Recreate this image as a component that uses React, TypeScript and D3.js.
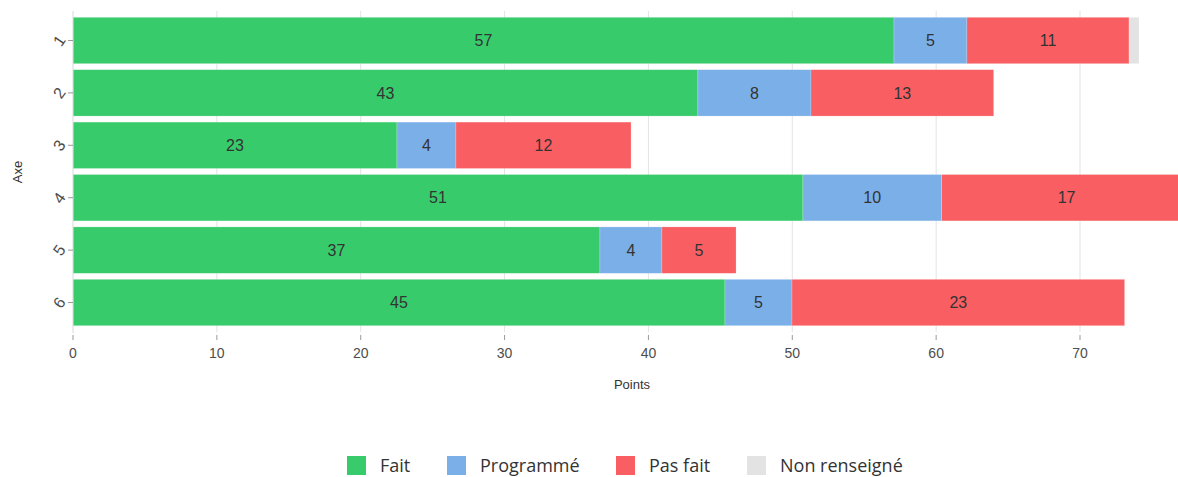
import React from "react";
import * as d3 from "d3";

const categories = ["1", "2", "3", "4", "5", "6"];
const seriesNames = ["Fait", "Programmé", "Pas fait", "Non renseigné"];
const fait = [57.07, 43.44, 22.52, 50.74, 36.63, 45.32];
const programme = [5.07, 7.86, 4.1, 9.64, 4.31, 4.66];
const pasFait = [11.27, 12.7, 12.17, 17.38, 5.15, 23.12];
const nonRenseigne = [0.69, 0, 0, 0, 0, 0];
const xTicks = [0, 10, 20, 30, 40, 50, 60, 70];
const colors = ["#37CB6B", "#7BAFE8", "#F95E62", "#E3E3E3"];

const W = 1178;
const H = 477;

export default function App() {
  const x = d3.scaleLinear().domain([0, 70]).range([73, 1080]);
  const y = d3
    .scaleBand<string>()
    .domain(categories)
    .range([11, 332])
    .paddingInner(0.115)
    .paddingOuter(0.12);

  const rows = categories.map((c, i) => ({
    cat: c,
    Fait: fait[i],
    "Programmé": programme[i],
    "Pas fait": pasFait[i],
    "Non renseigné": nonRenseigne[i],
  }));
  const stack = d3.stack<any>().keys(seriesNames);
  const series = stack(rows);

  const axisFont = "'Liberation Sans', Arial, sans-serif";
  const legendX = [347, 447, 616, 747];

  return (
    <svg
      width={W}
      height={H}
      style={{ position: "absolute", left: 0, top: 0, background: "#fff" }}
    >
      {/* grid */}
      {xTicks
        .filter((t) => t > 0)
        .map((t) => (
          <line
            key={"g" + t}
            x1={x(t)}
            x2={x(t)}
            y1={11}
            y2={332}
            stroke="#E3E3E3"
            strokeWidth={1}
          />
        ))}
      {/* bars */}
      {series.map((s, si) =>
        s.map((d, i) => {
          const v = d[1] - d[0];
          if (v <= 0) return null;
          const cat = categories[i];
          const x0 = x(d[0]);
          const x1 = x(d[1]);
          return (
            <g key={si + "-" + i}>
              <rect
                x={x0}
                y={y(cat)}
                width={x1 - x0}
                height={y.bandwidth()}
                fill={colors[si]}
                stroke="rgba(255,255,255,0.35)"
                strokeWidth={0.6}
              />
              {v >= 2 && (
                <text
                  x={(x0 + x1) / 2}
                  y={(y(cat) as number) + y.bandwidth() / 2}
                  dy="0.36em"
                  textAnchor="middle"
                  fontFamily={axisFont}
                  fontSize={16}
                  fill="#333"
                >
                  {Math.round(v)}
                </text>
              )}
            </g>
          );
        })
      )}
      {/* y axis line */}
      <line x1={73} x2={73} y1={11} y2={333} stroke="#D9D9D9" strokeWidth={1} />
      {categories.map((c) => {
        const cy = (y(c) as number) + y.bandwidth() / 2;
        return (
          <g key={"yt" + c}>
            <line x1={68} x2={73} y1={cy} y2={cy} stroke="#999" strokeWidth={1} />
            <text
              transform={`translate(59,${cy}) rotate(-55)`}
              textAnchor="middle"
              dy="0.36em"
              fontFamily={axisFont}
              fontSize={16}
              fill="#4d4d4d"
            >
              {c}
            </text>
          </g>
        );
      })}
      {/* x axis ticks */}
      {xTicks.map((t) => (
        <g key={"xt" + t}>
          <line x1={x(t)} x2={x(t)} y1={335} y2={340} stroke="#999" strokeWidth={1} />
          <text
            x={x(t)}
            y={358}
            textAnchor="middle"
            fontFamily={axisFont}
            fontSize={14}
            fill="#4d4d4d"
          >
            {t}
          </text>
        </g>
      ))}
      <text
        x={632}
        y={389}
        textAnchor="middle"
        fontFamily={axisFont}
        fontSize={13}
        fill="#333"
      >
        Points
      </text>
      <text
        transform={`translate(22,172) rotate(-90)`}
        textAnchor="middle"
        fontFamily={axisFont}
        fontSize={13}
        fill="#333"
      >
        Axe
      </text>
      {/* legend */}
      {seriesNames.map((n, i) => {
        const sx = legendX[i];
        return (
          <g key={"lg" + n}>
            <rect x={sx} y={456} width={19} height={19} fill={colors[i]} />
            <text
              x={sx + 33}
              y={466}
              dy="0.36em"
              fontFamily="'Open Sans', sans-serif"
              fontSize={18}
              fill="#333"
            >
              {n}
            </text>
          </g>
        );
      })}
    </svg>
  );
}
